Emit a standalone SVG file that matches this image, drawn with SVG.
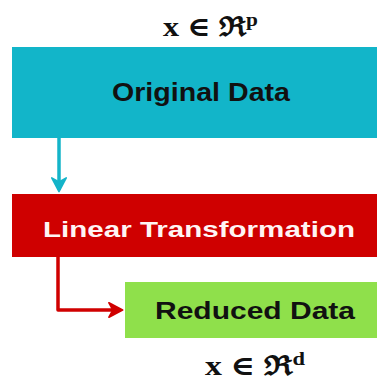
<svg xmlns="http://www.w3.org/2000/svg" width="377" height="381" viewBox="0 0 377 381">
  <style>
    .label { font-family: "Liberation Sans", "Open Sans", sans-serif; font-weight: 700; text-anchor: middle; }
    .dark { fill: #111111; }
    .light { fill: #FFF4F4; }
    .math { font-family: "Liberation Serif", "DejaVu Serif", serif; font-weight: 700; fill: #111111; }
    .conn { fill: none; stroke-width: 3.5; stroke-linejoin: round; }
  </style>
  <defs>
    <marker id="headCyan" viewBox="0 0 10 10" refX="8" refY="5" markerWidth="4.6" markerHeight="4.6" orient="auto" markerUnits="strokeWidth">
      <path d="M0.5,0.5 L9,5 L0.5,9.5 L3,5 Z" fill="#14B4C9" stroke="#14B4C9" stroke-width="1" stroke-linejoin="round"/>
    </marker>
    <marker id="headRed" viewBox="0 0 10 10" refX="8" refY="5" markerWidth="4.6" markerHeight="4.6" orient="auto" markerUnits="strokeWidth">
      <path d="M0.5,0.5 L9,5 L0.5,9.5 L3,5 Z" fill="#D00000" stroke="#D00000" stroke-width="1" stroke-linejoin="round"/>
    </marker>
  </defs>
  <rect width="377" height="381" fill="#FFFFFF"/>

  <!-- input space -->
  <text class="math" x="163" y="36" font-size="27" textLength="95" lengthAdjust="spacingAndGlyphs">x ∈ ℜ<tspan font-size="18" dy="-10">p</tspan></text>

  <g id="original-data">
    <rect x="12" y="47" width="370" height="91" fill="#12B5C9"/>
    <text class="label dark" x="201" y="101" font-size="26" textLength="178" lengthAdjust="spacingAndGlyphs">Original Data</text>
  </g>

  <g id="linear-transformation">
    <rect x="12" y="194" width="370" height="63" fill="#CF0000"/>
    <text class="label light" x="199" y="237" font-size="22" textLength="312" lengthAdjust="spacingAndGlyphs">Linear Transformation</text>
  </g>

  <g id="reduced-data">
    <rect x="125" y="282" width="257" height="56" fill="#8FE04B"/>
    <text class="label dark" x="255" y="319" font-size="24" textLength="200" lengthAdjust="spacingAndGlyphs">Reduced Data</text>
  </g>

  <!-- output space -->
  <text class="math" x="205" y="375" font-size="27" textLength="100" lengthAdjust="spacingAndGlyphs">x ∈ ℜ<tspan font-size="18" dy="-10">d</tspan></text>

  <g id="connectors">
    <path class="conn" d="M59,138 L59,190" stroke="#14B4C9" marker-end="url(#headCyan)"/>
    <path class="conn" d="M58,257 L58,310 L121,310" stroke="#D00000" marker-end="url(#headRed)"/>
  </g>
</svg>
